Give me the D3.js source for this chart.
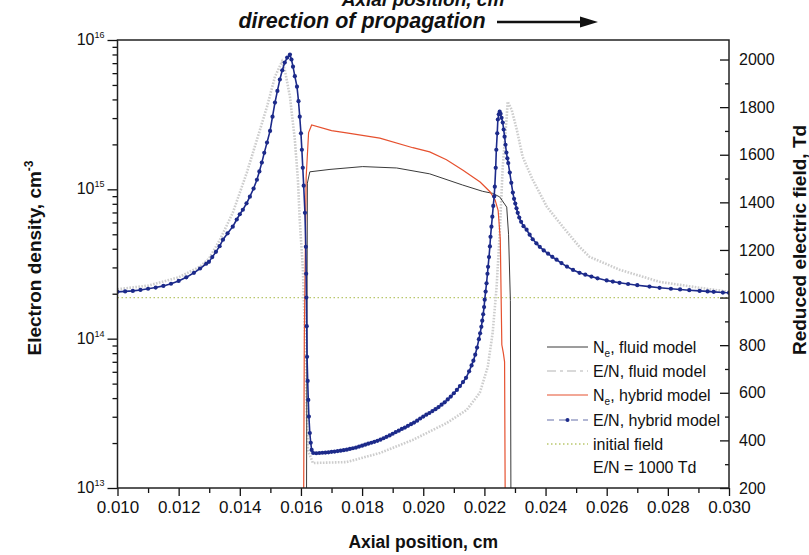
<!DOCTYPE html>
<html><head><meta charset="utf-8">
<script src="https://cdn.jsdelivr.net/npm/d3@7/dist/d3.min.js"></script>
<style>
html,body{margin:0;padding:0;background:#fff;}
svg{display:block;font-family:"Liberation Sans",Arial,Helvetica,sans-serif;}
</style></head>
<body><svg id="c" width="809" height="555"></svg>
<script>
// ---------------- data ----------------
const xTicks = [0.010,0.012,0.014,0.016,0.018,0.020,0.022,0.024,0.026,0.028,0.030];
const densityTicks = [1e13,1e14,1e15,1e16];
const fieldTicks = [200,400,600,800,1000,1200,1400,1600,1800,2000];

// Electron density, fluid model [x (cm), Ne (cm^-3)]
const neFluid = [[0.01617,1e12],[0.01621,1.1e15],[0.01629,1.31e15],[0.01695,1.36e15],[0.01802,1.42e15],
 [0.01913,1.39e15],[0.02021,1.27e15],[0.02128,1.07e15],[0.02194,0.97e15],[0.02227,0.94e15],[0.02250,0.89e15],
 [0.02273,0.76e15],[0.02279,0.5e15],[0.02285,1.8e14],[0.02288,1e12]];

// Electron density, hybrid model [x, Ne]
const neHybrid = [[0.01607,1e12],[0.01611,1e14],[0.01617,1.2e15],[0.01625,2.4e15],[0.01635,2.7e15],
 [0.01700,2.47e15],[0.01749,2.39e15],[0.01858,2.2e15],[0.01966,1.9e15],[0.02021,1.78e15],[0.02076,1.58e15],
 [0.02130,1.34e15],[0.02186,1.12e15],[0.02219,0.96e15],[0.02235,0.85e15],[0.02245,0.72e15],[0.02252,0.46e15],
 [0.02257,9.1e13],[0.02262,8e13],[0.02266,7e13],[0.02270,1e12]];

// Reduced electric field, fluid model [x, E/N (Td)]
const enFluid = [[0.0100,1035],[0.0110,1050],[0.0120,1085],[0.0127,1130],[0.0130,1165],[0.01335,1243],
 [0.01377,1356],[0.01423,1525],[0.01456,1663],[0.01489,1802],[0.01515,1928],[0.01538,1991],[0.01547,1958],
 [0.01564,1844],[0.01580,1663],[0.01590,1495],[0.01596,1327],[0.01606,1129],[0.01613,852],[0.01618,570],
 [0.01623,360],[0.01639,305],[0.01750,309],[0.01858,347],[0.01966,402],[0.02077,473],[0.02142,528],
 [0.02185,600],[0.02211,709],[0.02227,852],[0.02240,1045],[0.02250,1272],[0.02260,1550],[0.02273,1760],
 [0.02276,1823],[0.02289,1790],[0.02306,1705],[0.02325,1592],[0.02358,1495],[0.02404,1382],[0.02456,1298],
 [0.02511,1213],[0.02544,1171],[0.02642,1117],[0.02773,1066],[0.02904,1041],[0.0300,1024]];

// Reduced electric field, hybrid model [x, E/N (Td)]
const enHybrid = [[0.0100,1024],[0.01025,1026],[0.0105,1028],[0.01075,1032],[0.0110,1037],[0.01125,1042],
 [0.0115,1049],[0.01175,1058],[0.0120,1070],[0.01225,1085],[0.0125,1104],[0.0127,1122],[0.0129,1142],
 [0.01299,1150],[0.0131,1170],[0.01322,1192],[0.01334,1216],[0.01345,1243],[0.0136,1270],[0.01377,1298],
 [0.0139,1328],[0.0140,1350],[0.0141,1369],[0.01422,1396],[0.01433,1424],[0.01445,1458],[0.01456,1495],
 [0.01464,1530],[0.01472,1567],[0.0148,1608],[0.01489,1651],[0.01499,1700],[0.01507,1760],[0.01515,1819],
 [0.01523,1868],[0.01531,1916],[0.01539,1955],[0.01547,1987],[0.01555,2008],[0.01564,2021],[0.01569,2000],
 [0.01574,1970],[0.0158,1930],[0.01587,1886],[0.01592,1825],[0.01596,1760],[0.0160,1690],[0.01603,1621],
 [0.01606,1545],[0.01609,1470],[0.01613,1356],[0.01616,1213],[0.01617,1100],[0.01618,1000],[0.01619,880],
 [0.0162,751],[0.01622,650],[0.01624,570],[0.01626,500],[0.01629,431],[0.01632,390],[0.01635,360],
 [0.0164,347],[0.0165,346],[0.0166,347],[0.0167,348],[0.0168,349],[0.0169,350],[0.0170,352],[0.0171,353],
 [0.0172,355],[0.0173,357],[0.0174,359],[0.0175,361],[0.0176,364],[0.0177,367],[0.0178,370],[0.0179,374],
 [0.0180,378],[0.0181,382],[0.0182,386],[0.0183,390],[0.0184,394],[0.0185,398],[0.0186,403],[0.0187,409],
 [0.0188,415],[0.0189,421],[0.0190,428],[0.0191,435],[0.0192,441],[0.0193,448],[0.0194,454],[0.0195,461],
 [0.0196,468],[0.0197,475],[0.0198,483],[0.0199,492],[0.0200,500],[0.0201,508],[0.0202,515],[0.0203,523],
 [0.0204,531],[0.0205,540],[0.0206,550],[0.0207,560],[0.0208,572],[0.0209,584],[0.0210,598],[0.0211,612],
 [0.0212,628],[0.0213,645],[0.0214,663],[0.0215,690],[0.02158,715],[0.02164,735],[0.0217,760],[0.02176,790],
 [0.02182,825],[0.02186,850],[0.0219,877],[0.02193,903],[0.02196,930],[0.02199,960],[0.02201,991],
 [0.02204,1025],[0.02207,1060],[0.0221,1100],[0.02212,1129],[0.02215,1170],[0.02218,1215],[0.0222,1255],
 [0.02223,1298],[0.02226,1340],[0.02229,1385],[0.02232,1425],[0.02234,1466],[0.02237,1545],[0.02239,1621],
 [0.02242,1690],[0.02244,1748],[0.02247,1770],[0.0225,1781],[0.02253,1772],[0.02256,1755],[0.0226,1735],
 [0.02263,1706],[0.02266,1676],[0.02269,1642],[0.02272,1609],[0.02275,1585],[0.02278,1565],[0.02283,1525],
 [0.02288,1482],[0.02293,1441],[0.02297,1415],[0.02301,1395],[0.02305,1375],[0.02309,1356],[0.02314,1336],
 [0.0232,1318],[0.02328,1300],[0.02338,1285],[0.02348,1264],[0.02358,1245],[0.0237,1228],[0.02381,1213],
 [0.02394,1198],[0.02408,1185],[0.02422,1171],[0.02436,1159],[0.02452,1145],[0.0247,1130],[0.0249,1116],
 [0.02511,1104],[0.0253,1096],[0.0255,1088],[0.0257,1081],[0.026,1072],[0.0262,1067],[0.02642,1062],
 [0.0267,1057],[0.027,1052],[0.0274,1046],[0.02773,1041],[0.0281,1037],[0.0284,1034],[0.0287,1031],
 [0.02904,1028],[0.0293,1026],[0.0295,1024],[0.0298,1021],[0.0300,1020]];

const initialField = 1000;

const legendItems = [
 {key:"neFluid", label:["N","e",", fluid model"]},
 {key:"enFluid", label:["E/N, fluid model"]},
 {key:"neHybrid", label:["N","e",", hybrid model"]},
 {key:"enHybrid", label:["E/N, hybrid model"]},
 {key:"init", label:["initial field"]}
];

// ---------------- drawing ----------------
const svg = d3.select("#c");
const L = 117.5, R = 729, T = 40, B = 488;

const x = d3.scaleLinear().domain([0.010,0.030]).range([L,R]);
const yL = d3.scaleLog().domain([1e13,1e16]).range([B,T]);
const yR = d3.scaleLinear().domain([200,2082]).range([B,T]);

const colors = {neFluid:"#3a3a3a", enFluid:"#cdcdcd", neHybrid:"#e6512f", enHybrid:"#1c2a8a", init:"#b9c76c"};

svg.append("clipPath").attr("id","clip").append("rect")
  .attr("x",L).attr("y",T).attr("width",R-L).attr("height",B-T);
const plot = svg.append("g").attr("clip-path","url(#clip)");

plot.append("line").attr("x1",x(0.010)).attr("x2",x(0.030))
  .attr("y1",yR(initialField)).attr("y2",yR(initialField))
  .attr("stroke",colors.init).attr("stroke-width",1.3).attr("stroke-dasharray","1.5,2.5");

const lineL = d3.line().x(d=>x(d[0])).y(d=>yL(d[1]));
const lineR = d3.line().x(d=>x(d[0])).y(d=>yR(d[1]));

plot.append("path").datum(enFluid).attr("d",lineR).attr("fill","none")
  .attr("stroke",colors.enFluid).attr("stroke-width",2.6).attr("stroke-dasharray","1.6,1.4");
plot.append("path").datum(neFluid).attr("d",lineL).attr("fill","none")
  .attr("stroke",colors.neFluid).attr("stroke-width",1);
plot.append("path").datum(neHybrid).attr("d",lineL).attr("fill","none")
  .attr("stroke",colors.neHybrid).attr("stroke-width",1.2);
plot.append("path").datum(enHybrid).attr("d",lineR).attr("fill","none")
  .attr("stroke",colors.enHybrid).attr("stroke-width",1.6);
plot.selectAll("circle.m").data(enHybrid).enter().append("circle").attr("class","m")
  .attr("cx",d=>x(d[0])).attr("cy",d=>yR(d[1])).attr("r",2.1).attr("fill",colors.enHybrid);

// ---------- axes ----------
const minorX = d3.range(11,30,2).map(v=>v/1000);
svg.append("g").attr("transform",`translate(0,${B})`)
  .call(d3.axisBottom(x).tickValues(xTicks).tickSize(8).tickPadding(5).tickFormat(d3.format(".3f")));
svg.append("g").attr("transform",`translate(0,${B})`)
  .call(d3.axisBottom(x).tickValues(minorX).tickSize(5).tickFormat(""));

const minorY = [];
[13,14,15].forEach(e=>{for(let m=2;m<=9;m++) minorY.push(m*Math.pow(10,e));});
svg.append("g").attr("transform",`translate(${L},0)`)
  .call(d3.axisLeft(yL).tickValues(densityTicks).tickSize(10).tickFormat(""));
svg.append("g").attr("transform",`translate(${L},0)`)
  .call(d3.axisLeft(yL).tickValues(minorY).tickSize(5).tickFormat(""));

const minorR = d3.range(300,2100,200);
svg.append("g").attr("class","axR").attr("transform",`translate(${R},0)`)
  .call(d3.axisRight(yR).tickValues(fieldTicks).tickSizeInner(-9).tickSizeOuter(0).tickPadding(10).tickFormat(d3.format("d")));
svg.append("g").attr("transform",`translate(${R},0)`)
  .call(d3.axisRight(yR).tickValues(minorR).tickSizeInner(-4).tickSizeOuter(0).tickFormat(""));

svg.selectAll(".domain").remove();
svg.selectAll(".tick line").attr("stroke","#111").attr("stroke-width",1.3);
svg.selectAll(".tick text").attr("fill","#111").style("font-size","17px")
  .style("font-family",'"Liberation Sans",Arial,sans-serif');
svg.selectAll(".axR .tick text").style("font-size","16px");

densityTicks.forEach(v=>{
  const t = svg.append("text").attr("x",L-13).attr("y",yL(v)+5).attr("text-anchor","end")
    .style("font-size","16px").attr("fill","#111");
  t.append("tspan").text("10");
  t.append("tspan").attr("dy",-7).style("font-size","9px").text(String(Math.round(Math.log10(v))));
});

svg.append("rect").attr("x",L).attr("y",T).attr("width",R-L).attr("height",B-T)
  .attr("fill","none").attr("stroke","#222").attr("stroke-width",1.5);

// ---------- titles ----------
svg.append("text").attr("x",(L+R)/2).attr("y",548).attr("text-anchor","middle")
  .style("font-size","17.5px").style("font-weight","bold").attr("fill","#111").text("Axial position, cm");

const lt = svg.append("text").attr("transform","translate(41,258) rotate(-90)").attr("text-anchor","middle")
  .style("font-size","19px").style("font-weight","bold").attr("fill","#111");
lt.append("tspan").text("Electron density, cm");
lt.append("tspan").attr("dy",-8).style("font-size","12px").text("-3");

svg.append("text").attr("transform","translate(806,240) rotate(-90)").attr("text-anchor","middle")
  .style("font-size","19px").style("font-weight","bold").attr("fill","#111").text("Reduced electric field, Td");

svg.append("text").attr("x",423).attr("y",6).attr("text-anchor","middle")
  .style("font-size","19px").style("font-weight","bold").style("font-style","italic").attr("fill","#111")
  .text("Axial position, cm");
svg.append("text").attr("x",362).attr("y",28).attr("text-anchor","middle")
  .style("font-size","21.5px").style("font-weight","bold").style("font-style","italic").attr("fill","#111")
  .text("direction of propagation");
svg.append("line").attr("x1",497).attr("x2",584).attr("y1",22).attr("y2",22)
  .attr("stroke","#111").attr("stroke-width",2.5);
svg.append("path").attr("d","M580,16.5 L598,22 L580,27.5 Z").attr("fill","#111");

// ---------- legend ----------
const lg = svg.append("g");
const rowY = [347,371,395,420,444];
const sx1 = 547, sx2 = 588, tx = 593;
legendItems.forEach((it,i)=>{
  const y = rowY[i];
  const ln = lg.append("line").attr("x1",sx1).attr("x2",sx2).attr("y1",y).attr("y2",y)
    .attr("stroke",colors[it.key]);
  if(it.key==="neFluid") ln.attr("stroke-width",1);
  if(it.key==="enFluid") ln.attr("stroke-width",1.3).attr("stroke-dasharray","9,4,3,4");
  if(it.key==="neHybrid") ln.attr("stroke-width",1.2);
  if(it.key==="enHybrid"){ ln.attr("stroke","#6670aa").attr("stroke-width",1.2).attr("stroke-dasharray","7,5");
    lg.append("circle").attr("cx",(sx1+sx2)/2).attr("cy",y).attr("r",2).attr("fill",colors.enHybrid); }
  if(it.key==="init") ln.attr("stroke-width",1.3).attr("stroke-dasharray","1.5,2.5");
  const t = lg.append("text").attr("x",tx).attr("y",y+5.5).style("font-size","16px").attr("fill","#111");
  if(it.label.length===3){
    t.append("tspan").text(it.label[0]);
    t.append("tspan").attr("dy",4).style("font-size","10px").text(it.label[1]);
    t.append("tspan").attr("dy",-4).text(it.label[2]);
  } else t.text(it.label[0]);
});
lg.append("text").attr("x",tx).attr("y",467+5.5).style("font-size","16px").attr("fill","#111").text("E/N = 1000 Td");
</script></body></html>
